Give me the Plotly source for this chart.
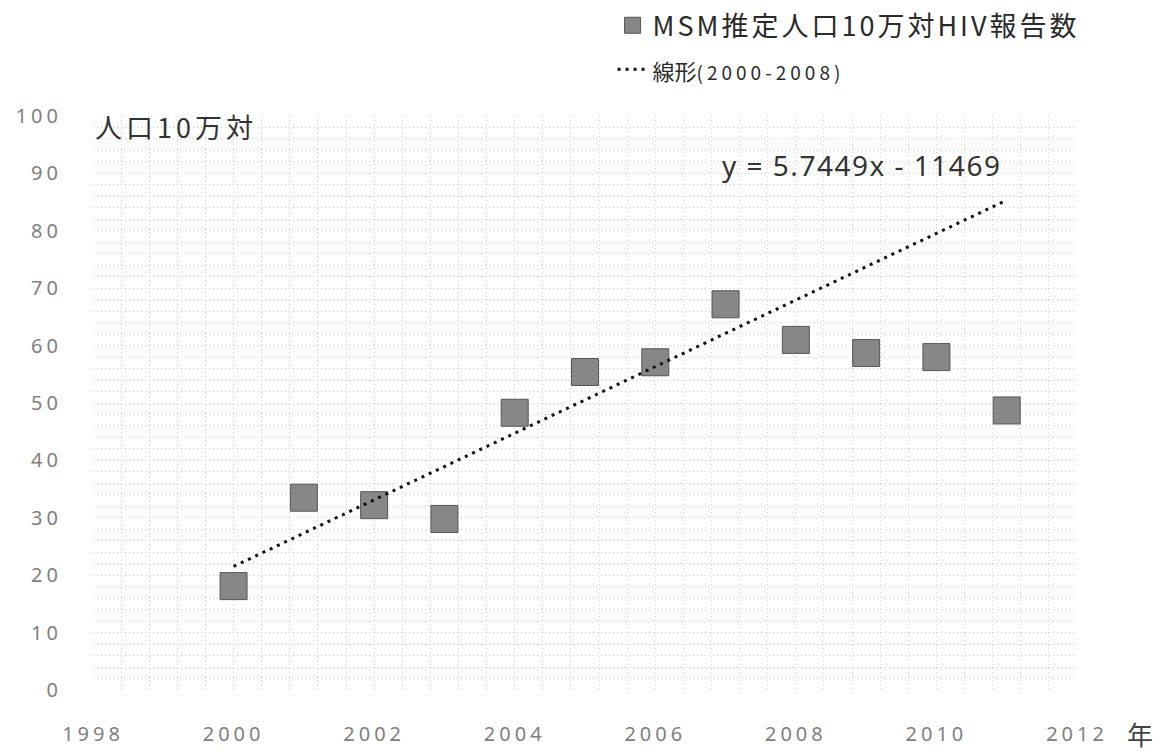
import numpy as np
import plotly.graph_objects as go

# ---- data ----
years = [2000, 2001, 2002, 2003, 2004, 2005, 2006, 2007, 2008, 2009, 2010, 2011]
rate_per_100k = [18.1, 33.5, 32.2, 29.8, 48.3, 55.4, 57.1, 67.2, 61.0, 58.7, 58.0, 48.7]
fit_years = [2000, 2001, 2002, 2003, 2004, 2005, 2006, 2007, 2008]
trend_span = [2000, 2011]
x_ticks = [1998, 2000, 2002, 2004, 2006, 2008, 2010, 2012]
y_ticks = [0, 10, 20, 30, 40, 50, 60, 70, 80, 90, 100]

series_name = "MSM推定人口10万対HIV報告数"
trend_name_word = "線形"
trend_name_range = "(2000-2008)"
equation_text = "y = 5.7449x - 11469"
y_title = "人口10万対"
x_unit = "年"

# linear trend fitted on 2000-2008
fit_vals = [v for y, v in zip(years, rate_per_100k) if y in fit_years]
slope, intercept = np.polyfit(fit_years, fit_vals, 1)
trend_vals = [slope * x + intercept for x in trend_span]

CJK = "Noto Sans CJK JP"


def spaced(txt, px):
    return '<span style="letter-spacing:%spx">%s</span>' % (px, txt)


fig = go.Figure()
fig.add_trace(go.Scatter(
    x=years, y=rate_per_100k, mode="markers",
    name=spaced(series_name, 3),
    legendgroup="a",
    marker=dict(symbol="square", size=27, color="#878787",
                line=dict(color="#555555", width=1)),
))
fig.add_trace(go.Scatter(
    x=trend_span, y=trend_vals, mode="lines",
    name=('<span style="font-size:22px">' + trend_name_word + '</span>'
          '<span style="font-size:19px;letter-spacing:4px">' + trend_name_range + '</span>'),
    legendgroup="b",
    line=dict(color="#111111", width=3, dash="3px,5px"),
))

grid_col = "#d3d3d3"
fig.update_xaxes(
    range=[1998, 2012], tickvals=x_ticks, ticktext=[spaced(t, 4) for t in x_ticks],
    showgrid=True, gridcolor=grid_col, griddash="1px,3px", gridwidth=1,
    minor=dict(dtick=0.4, tick0=1998, showgrid=True, gridcolor=grid_col,
               griddash="1px,3px", gridwidth=1),
    zeroline=False, showline=False, ticks="",
    tickfont=dict(family="Noto Sans", size=20, color="#808080"),
    ticklabelstandoff=30,
)
fig.update_yaxes(
    range=[0, 100], tickvals=y_ticks, ticktext=[spaced(t, 4) for t in y_ticks],
    showgrid=True, gridcolor=grid_col, griddash="1px,3px", gridwidth=1,
    minor=dict(dtick=2, tick0=0, showgrid=True, gridcolor=grid_col,
               griddash="1px,3px", gridwidth=1),
    zeroline=False, showline=False, ticks="",
    tickfont=dict(family="Noto Sans", size=20, color="#808080"),
    ticklabelstandoff=30,
)

fig.update_layout(
    width=1164, height=751,
    margin=dict(l=93, r=87, t=116, b=61, autoexpand=False),
    paper_bgcolor="white", plot_bgcolor="white",
    font=dict(family=CJK, color="#333333"),
    showlegend=True,
    legend=dict(x=0.528, xanchor="left", y=1.2, yanchor="top",
                bgcolor="rgba(0,0,0,0)", tracegroupgap=6,
                traceorder="grouped",
                font=dict(family=CJK, size=27, color="#2a2a2a")),
    annotations=[
        dict(text=spaced(y_title, 4), xref="paper", yref="paper", x=0.0, y=0.981,
             xanchor="left", yanchor="middle", showarrow=False,
             font=dict(family=CJK, size=27, color="#333333")),
        dict(text=spaced(equation_text, 1.5), xref="paper", yref="paper", x=0.637, y=0.915,
             xanchor="left", yanchor="middle", showarrow=False,
             font=dict(family="Noto Sans", size=28, color="#333333")),
        dict(text=x_unit, xref="paper", yref="paper", x=1.064, y=-0.075,
             xanchor="center", yanchor="middle", showarrow=False,
             font=dict(family=CJK, size=26, color="#444444")),
    ],
)

fig.write_html(
    "out.html",
    config={"displayModeBar": False},
    post_script="document.body.style.margin='0';document.body.style.overflow='hidden';",
)
